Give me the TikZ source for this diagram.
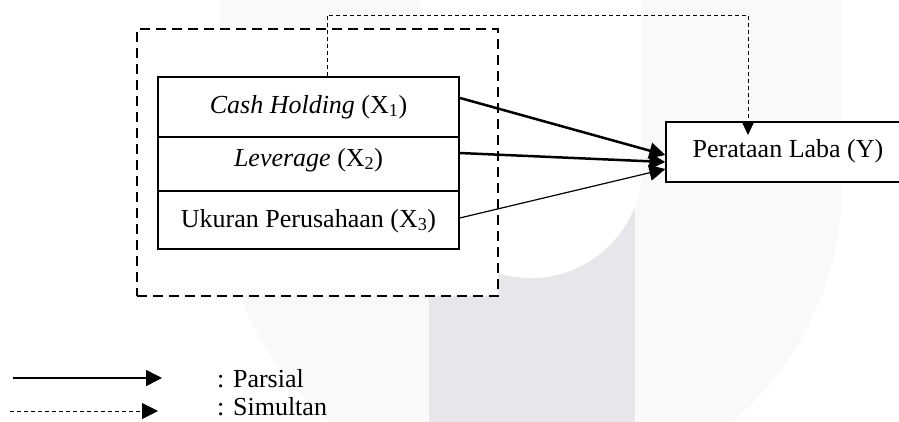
\documentclass[tikz,border=0pt]{standalone}
\usepackage{fontspec}
\setmainfont{Liberation Serif}
\usetikzlibrary{arrows.meta,calc}
\definecolor{wmfaint}{HTML}{F9F9FA}
\definecolor{wmbar}{HTML}{E7E7EB}
\begin{document}
\begin{tikzpicture}[x=1pt,y=-1pt,
  every node/.style={font=\fontsize{26}{31}\selectfont},
  varbox/.style={draw=black, fill=white, line width=1.3pt, inner sep=0pt, minimum width=301pt, text depth=0pt},
  grpbox/.style={draw=black, fill=white, line width=2.7pt, dash pattern=on 10pt off 6pt, minimum width=361pt, minimum height=267pt, inner sep=0pt},
  parsial/.style={-{Triangle[length=16pt,width=16pt]}},
  simultan/.style={dash pattern=on 4pt off 3pt, line width=1pt, -{Triangle[length=14pt,width=13pt]}},
  legtxt/.style={anchor=base west, inner sep=0pt},
]
\useasboundingbox (0,0) rectangle (899,421);
\clip (0,0) rectangle (899,421);
% watermark
\fill[wmfaint] (220,-5) -- (220,185) arc[start angle=180, end angle=0, radius=311] -- (842,-5) -- cycle;
\fill[wmbar] (429,167) rectangle (635,430);
\fill[white] (420,-5) -- (420,167) arc[start angle=180, end angle=0, radius=111] -- (642,-5) -- cycle;
% group box
\node[grpbox] (grp) at (317.5,162.5) {};
% variable boxes
\node[varbox, minimum height=54pt, text height=4pt] (lev) at (308.5,164) {\textit{Leverage} (X\textsubscript{2})};
\node[varbox, minimum height=58pt, text height=14pt] (uk) at (308.5,220) {Ukuran Perusahaan (X\textsubscript{3})};
\node[varbox, line width=2.2pt, minimum height=60pt, text height=12pt] (ch) at (308.5,107) {\textit{Cash Holding} (X\textsubscript{1})};
\node[varbox, minimum width=244pt, minimum height=60pt, text height=10pt] (y) at (788,152) {Perataan Laba (Y)};
% partial arrows
\draw[parsial, line width=2.5pt] ($(ch.east)+(0,-9)$) -- ($(y.west)+(0,3)$);
\draw[parsial, line width=2.5pt] ($(lev.east)+(0,-11)$) -- ($(y.west)+(0,10)$);
\draw[parsial, line width=1.2pt] ($(uk.east)+(0,-2)$) -- ($(y.west)+(0,17)$);
% simultaneous arrow
\coordinate (sa) at (327,15);
\coordinate (sb) at (748,15);
\coordinate (st) at (748,135);
\draw[simultan] (ch.north -| sa) -- (sa) -- (sb) -- (st);
% legend
\coordinate (l1a) at (13,378);
\coordinate (l1b) at (162,378);
\coordinate (l2a) at (10,411);
\coordinate (l2b) at (158,411);
\draw[parsial, line width=1.5pt] (l1a) -- (l1b);
\draw[dash pattern=on 4pt off 3pt, line width=1pt, -{Triangle[length=16pt,width=16pt]}] (l2a) -- (l2b);
\node[legtxt] (lp) at (217,387) {: Parsial};
\node[legtxt] (ls) at (217,415) {: Simultan};
\end{tikzpicture}
\end{document}
